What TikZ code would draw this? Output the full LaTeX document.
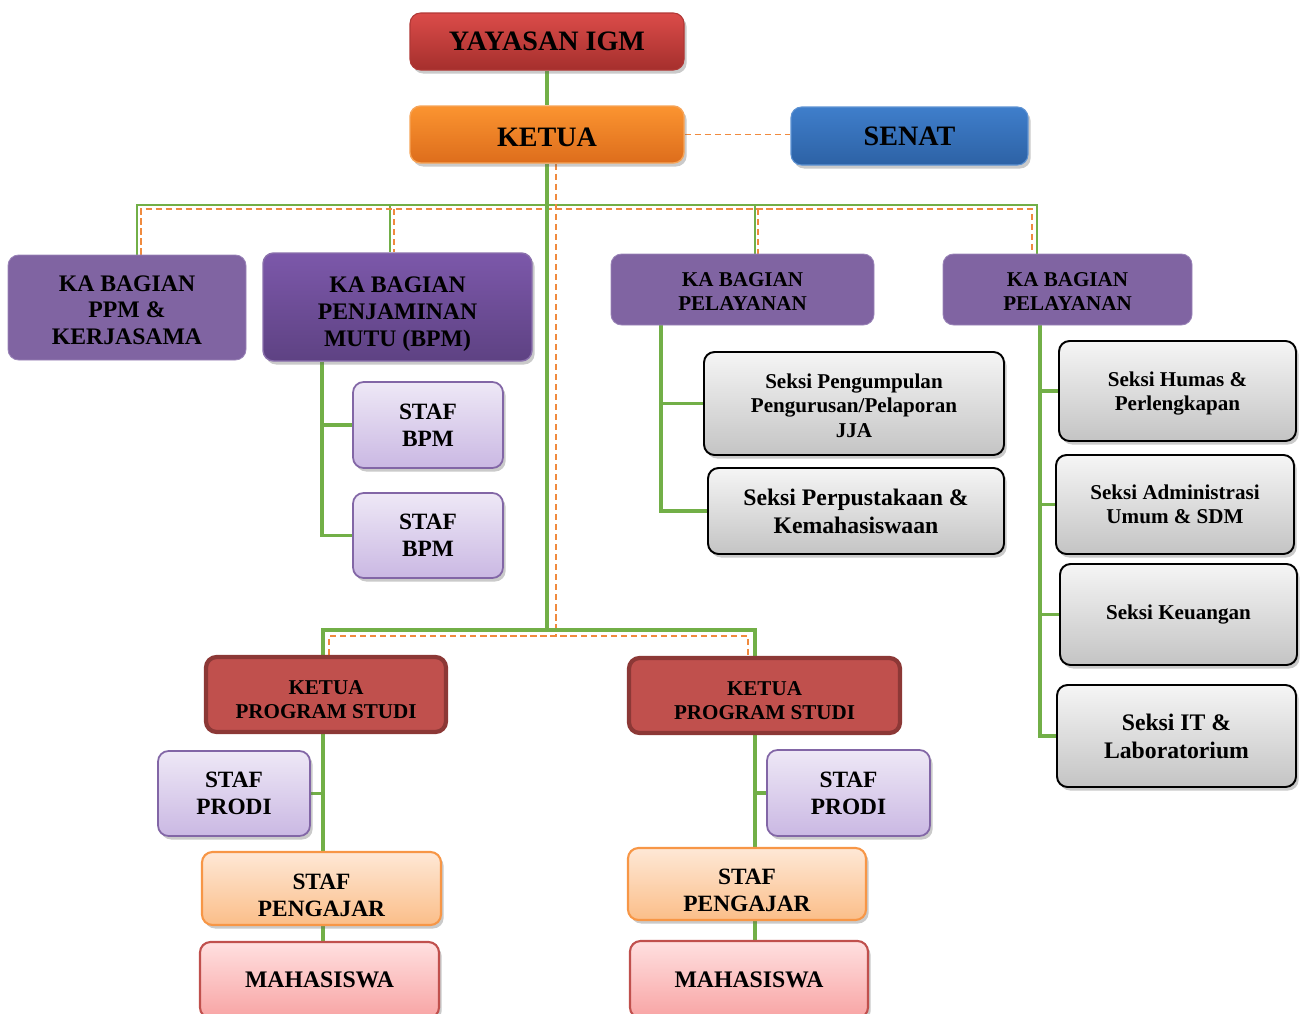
\documentclass[tikz,border=0pt]{standalone}
\usepackage{fontspec}
\setmainfont{Liberation Serif}
\usetikzlibrary{shadows}
\pgfdeclarelayer{bg}
\pgfsetlayers{bg,main}
\definecolor{gr}{HTML}{72AF47}
\definecolor{orn}{HTML}{F08A3E}
\definecolor{purp}{HTML}{8064A2}
\definecolor{yayT}{HTML}{DB4C49}\definecolor{yayB}{HTML}{A52F2D}\definecolor{yayD}{HTML}{B03836}
\definecolor{ketT}{HTML}{FB9430}\definecolor{ketB}{HTML}{DD6D1C}\definecolor{ketD}{HTML}{F6A458}
\definecolor{senT}{HTML}{3F7ECB}\definecolor{senB}{HTML}{2D62A5}\definecolor{senD}{HTML}{5E92D2}
\definecolor{purD}{HTML}{9A84B8}
\definecolor{dpT}{HTML}{7C58AA}\definecolor{dpB}{HTML}{5E4283}\definecolor{dpD}{HTML}{8A70AC}
\definecolor{lavT}{HTML}{EEE8F6}\definecolor{lavB}{HTML}{CAB8E3}\definecolor{lavD}{HTML}{8266A6}
\definecolor{gryT}{HTML}{F5F5F5}\definecolor{gryB}{HTML}{C4C4C4}
\definecolor{kpsF}{HTML}{C0504D}\definecolor{kpsD}{HTML}{8C3836}
\definecolor{pchT}{HTML}{FEE8D6}\definecolor{pchB}{HTML}{FBBE89}\definecolor{pchD}{HTML}{F79646}
\definecolor{pnkT}{HTML}{FFE0E0}\definecolor{pnkB}{HTML}{F8A4A4}\definecolor{pnkD}{HTML}{C0504D}
\begin{document}
\begin{tikzpicture}[x=0.02cm,y=-0.02cm,
  box/.style={rounded corners=6pt, inner sep=0pt, align=center, text=black},
  sz/.style 2 args={minimum width={#1*0.02cm}, minimum height={#2*0.02cm}},
  shd/.style={drop shadow={shadow xshift=1.5pt,shadow yshift=-2pt,opacity=0.35,fill=black!60}},
  yaybox/.style={box, shd, top color=yayT, bottom color=yayB, draw=yayD, line width=0.6pt},
  ketbox/.style={box, shd, top color=ketT, bottom color=ketB, draw=ketD, line width=0.8pt},
  senbox/.style={box, shd, top color=senT, bottom color=senB, draw=senD, line width=0.6pt},
  purpbox/.style={box, fill=purp, draw=purD, line width=0.5pt},
  darkpurp/.style={box, shd, top color=dpT, bottom color=dpB, draw=dpD, line width=0.8pt},
  lavbox/.style={box, shd, top color=lavT, bottom color=lavB, draw=lavD, line width=1pt},
  graybox/.style={box, shd, top color=gryT, bottom color=gryB, draw=black, line width=1.1pt},
  kpsbox/.style={box, fill=kpsF, draw=kpsD, line width=2.4pt},
  peachbox/.style={box, shd, top color=pchT, bottom color=pchB, draw=pchD, line width=1.2pt},
  pinkbox/.style={box, shd, top color=pnkT, bottom color=pnkB, draw=pnkD, line width=1.2pt},
  gthick/.style={draw=gr, line width=1.8pt},
  gthin/.style={draw=gr, line width=1.1pt},
  odash/.style={draw=orn, line width=1.1pt, dash pattern=on 3.5pt off 2.2pt},
  fA/.style={font=\fontsize{16}{19}\selectfont\bfseries},
  fB/.style={font=\fontsize{13.5}{15.3}\selectfont\bfseries},
  fC/.style={font=\fontsize{12}{13.6}\selectfont\bfseries},
  fD/.style={font=\fontsize{13.3}{15.3}\selectfont\bfseries},
  fE/.style={font=\fontsize{12}{13.9}\selectfont\bfseries},
  fF/.style={font=\fontsize{13.5}{15.9}\selectfont\bfseries}
]
\useasboundingbox (0,0) rectangle (1305,1014);
\clip (0,0) rectangle (1305,1014);

% top
\node[yaybox, sz={274}{57}, fA] (yay) at (547,41.5) {YAYASAN IGM};
\node[ketbox, sz={274}{57}, fA] (ketua) at (547,134.5) {\rule{0pt}{13.5pt}KETUA};
\node[senbox, sz={237}{58}, fA] (senat) at (909.5,136) {SENAT};

% ka bagian
\node[purpbox, sz={238}{105}, fB] (kappm) at (127,307.5) {\rule{0pt}{12pt}KA BAGIAN\\PPM \&\\KERJASAMA};
\node[darkpurp, sz={269}{108}, fB] (kabpm) at (397.5,307) {\rule{0pt}{17pt}KA BAGIAN\\PENJAMINAN\\MUTU (BPM)};
\node[purpbox, sz={263}{71}, fC] (kapel1) at (742.5,289.5) {\rule{0pt}{10pt}KA BAGIAN\\PELAYANAN};
\node[purpbox, sz={249}{71}, fC] (kapel2) at (1067.5,289.5) {\rule{0pt}{10pt}KA BAGIAN\\PELAYANAN};

% staf bpm
\node[lavbox, sz={150}{86}, fD] (bpm1) at (428,425) {STAF\\BPM};
\node[lavbox, sz={150}{85}, fD] (bpm2) at (428,535.5) {STAF\\BPM};

% seksi
\node[graybox, sz={300}{103}, fE] (sk1) at (854,403.5) {\rule{0pt}{10.5pt}Seksi Pengumpulan\\Pengurusan/Pelaporan\\JJA};
\node[graybox, sz={296}{86}, fF] (sk2) at (856,511) {Seksi Perpustakaan \&\\Kemahasiswaan};
\node[graybox, sz={237}{100}, fE] (sk3) at (1177.5,391) {\rule{0pt}{11pt}Seksi Humas \&\\Perlengkapan};
\node[graybox, sz={238}{99}, fE] (sk4) at (1175,504.5) {Seksi Administrasi\\Umum \& SDM};
\node[graybox, sz={237}{101}, fE] (sk5) at (1178.5,614.5) {Seksi Keuangan};
\node[graybox, sz={239}{102}, fF] (sk6) at (1176.5,736) {Seksi IT \&\\Laboratorium};

% program studi
\node[kpsbox, sz={240}{75}, fC] (kps1) at (326,694.5) {\rule{0pt}{13.5pt}KETUA\\PROGRAM STUDI};
\node[kpsbox, sz={271}{75}, fC] (kps2) at (764.5,695.5) {\rule{0pt}{13.5pt}KETUA\\PROGRAM STUDI};
\node[lavbox, sz={152}{85}, fD] (sp1) at (234,793.5) {STAF\\PRODI};
\node[lavbox, sz={163}{86}, fD] (sp2) at (848.5,793) {STAF\\PRODI};
\node[peachbox, sz={239}{73}, fD] (sg1) at (321.5,888.5) {\rule{0pt}{16.5pt}STAF\\PENGAJAR};
\node[peachbox, sz={238}{72}, fD] (sg2) at (747,884) {\rule{0pt}{16.5pt}STAF\\PENGAJAR};
\node[pinkbox, sz={239}{76}, fB] (mh1) at (319.5,980) {MAHASISWA};
\node[pinkbox, sz={238}{77}, fB] (mh2) at (749,979.5) {MAHASISWA};

% joints
\coordinate (tA) at (137,205); \coordinate (tB) at (390,205);
\coordinate (tC) at (755,205); \coordinate (tD) at (1037,205);
\coordinate (oA) at (141,209); \coordinate (oB) at (394,209);
\coordinate (oC) at (758,209); \coordinate (oD) at (1032,209);
\coordinate (bL) at (323,630); \coordinate (bR) at (755,630);
\coordinate (oL) at (329,636); \coordinate (oR) at (748,636);
\coordinate (oT) at (556,636);
\coordinate (vB) at (322,361); \coordinate (vP) at (661,325); \coordinate (vQ) at (1040,325);

\begin{pgfonlayer}{bg}
\draw[gthick] (yay) -- (ketua);
\draw[odash] (ketua.east) -- (ketua.east -| senat.west);
% top buses
\draw[gthin] (kappm.north -| tA) -- (tA) -- (tD) -- (kapel2.north -| tD);
\draw[gthin] (tB) -- (kabpm.north -| tB);
\draw[gthin] (tC) -- (kapel1.north -| tC);
\draw[odash] (kappm.north -| oA) -- (oA) -- (oD) -- (kapel2.north -| oD);
\draw[odash] (oB) -- (kabpm.north -| oB);
\draw[odash] (oC) -- (kapel1.north -| oC);
% trunks
\draw[gthick] (ketua.south) -- (ketua.south |- bL);
\draw[odash] (ketua.south -| oT) -- (oT);
% lower buses
\draw[gthick] (kps1.north -| bL) -- (bL) -- (bR) -- (kps2.north -| bR);
\draw[odash] (kps1.north -| oL) -- (oL) -- (oR) -- (kps2.north -| oR);
% prodi columns
\draw[gthick] (kps1.south -| bL) -- (mh1.north -| bL);
\draw[gthick] (sp1.east) -- (sp1.east -| bL);
\draw[gthick] (kps2.south -| bR) -- (mh2.north -| bR);
\draw[gthick] (sp2.west) -- (sp2.west -| bR);
% bpm
\draw[gthick] (kabpm.south -| vB) |- (bpm1.west);
\draw[gthick] (kabpm.south -| vB) |- (bpm2.west);
% pelayanan 1
\draw[gthick] (kapel1.south -| vP) |- (sk1.west);
\draw[gthick] (kapel1.south -| vP) |- (sk2.west);
% pelayanan 2
\draw[gthick] (kapel2.south -| vQ) |- (sk3.west);
\draw[gthick] (kapel2.south -| vQ) |- (sk4.west);
\draw[gthick] (kapel2.south -| vQ) |- (sk5.west);
\draw[gthick] (kapel2.south -| vQ) |- (sk6.west);
\end{pgfonlayer}
\end{tikzpicture}
\end{document}
